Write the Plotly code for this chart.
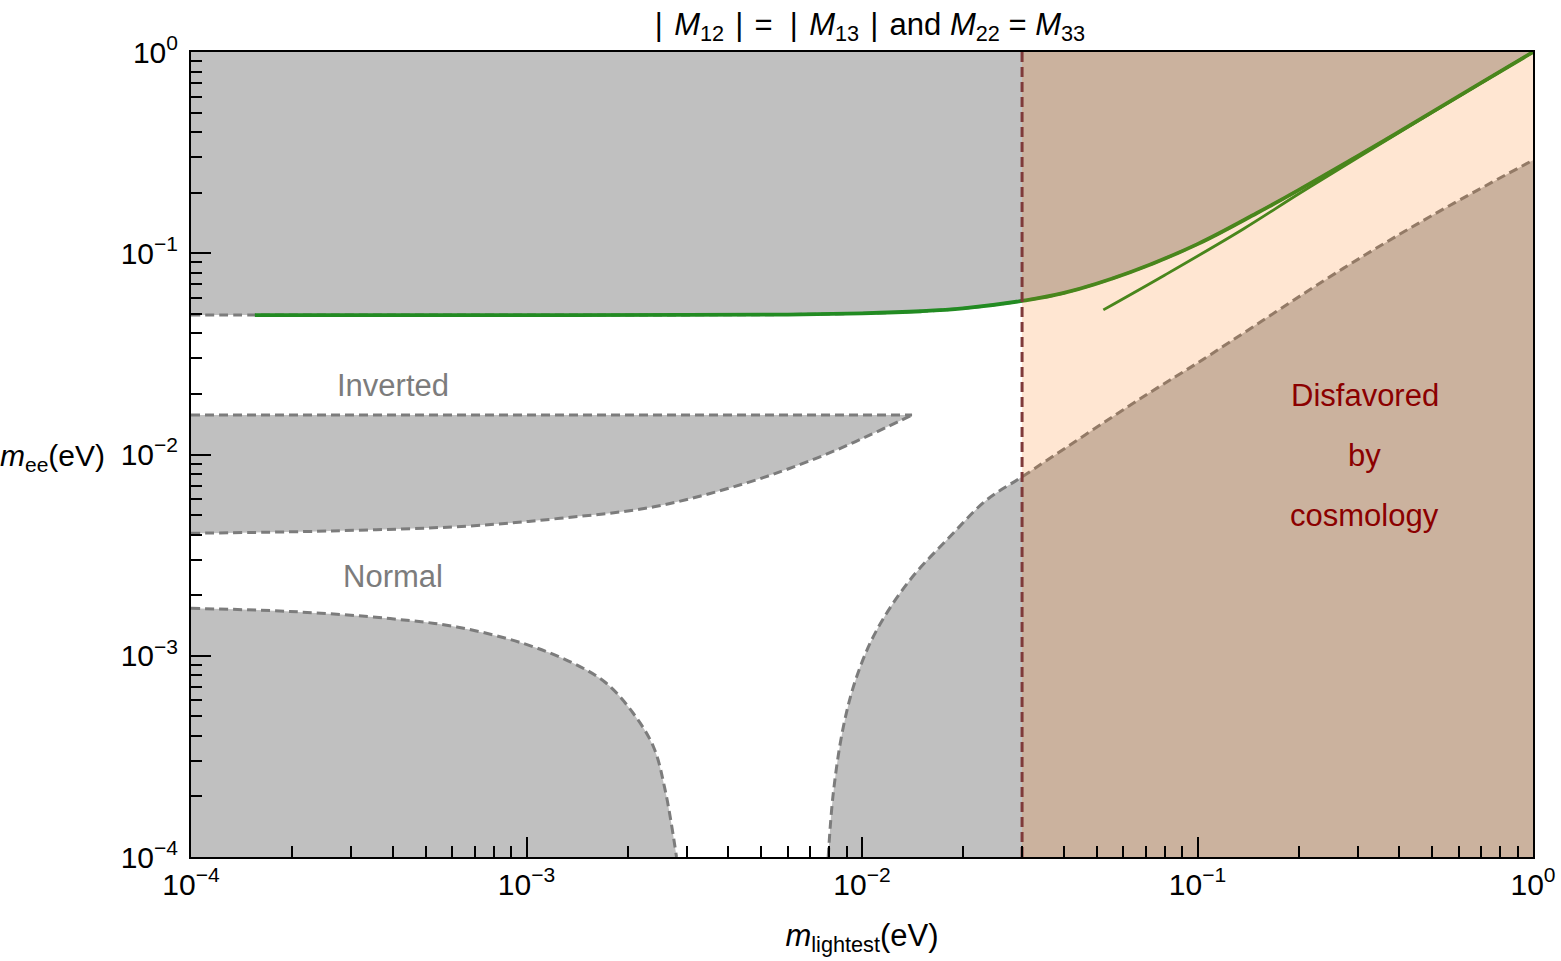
import plotly.graph_objects as go

# ---------------- data ----------------
# Inverted ordering, upper bound of m_ee
x_io_upper = [1e-4, 1.55e-4, 3e-4, 1e-3, 3e-3, 0.006, 0.01, 0.015, 0.02, 0.03,
              0.04, 0.063, 0.1, 0.15, 0.2, 0.3, 0.5, 0.7, 1.0]
y_io_upper = [0.0493, 0.0493, 0.0493, 0.0493, 0.0494, 0.0496, 0.0503, 0.0515, 0.0532, 0.0580,
              0.0635, 0.0805, 0.111, 0.158, 0.206, 0.304, 0.502, 0.702, 1.0]

# Inverted ordering, lower bound (top of grey wedge)
x_io_lower = [1e-4, 0.0141]
y_io_lower = [0.0157, 0.0157]

# Normal ordering, upper bound (bottom of grey wedge)
x_no_upper = [1e-4, 2.6e-4, 6.7e-4, 1.26e-3, 2.4e-3, 4.5e-3, 7.3e-3, 0.0103, 0.0141]
y_no_upper = [0.00406, 0.00417, 0.00441, 0.00482, 0.0055, 0.0072, 0.00957, 0.01226, 0.0157]

# Normal ordering, lower bound (left branch)
x_no_lower_left = [1e-4, 1.97e-4, 3.92e-4, 6.2e-4, 9.8e-4, 1.38e-3, 1.73e-3, 2.08e-3,
                   2.39e-3, 2.59e-3, 2.8e-3]
y_no_lower_left = [0.00172, 0.00166, 0.00153, 0.00139, 0.00115, 0.000917, 0.00073, 0.000518,
                   0.000353, 0.000215, 1e-4]

# Normal ordering, lower bound (right branch)
x_no_lower_right = [7.93e-3, 8.21e-3, 8.8e-3, 9.64e-3, 0.01106, 0.0139, 0.0183, 0.0235, 0.03,
                    0.0689, 0.1, 0.272, 0.5, 1.0]
y_no_lower_right = [1e-4, 2.07e-4, 4.44e-4, 7.87e-4, 1.34e-3, 2.38e-3, 3.91e-3, 5.94e-3, 7.75e-3,
                    0.01936, 0.0285, 0.0841, 0.154, 0.29]

# Green curves (texture-zero condition)
x_green_upper = x_io_upper[1:]
y_green_upper = y_io_upper[1:]
x_green_lower = [0.0524, 0.08, 0.137, 0.2, 0.3, 0.5, 1.0]
y_green_lower = [0.0523, 0.078, 0.132, 0.197, 0.298, 0.5, 1.0]

# Cosmology bound and plot limits
cosmo_limit = 0.03
x_min, x_max = 1e-4, 1.0
y_min, y_max = 1e-4, 1.0

# Axis ticks
major_ticks = [1e-4, 1e-3, 1e-2, 1e-1, 1.0]
major_labels = ["10<sup>\u22124</sup>", "10<sup>\u22123</sup>", "10<sup>\u22122</sup>",
                "10<sup>\u22121</sup>", "10<sup>0</sup>"]
minor_ticks = [m * d for d in major_ticks[:-1] for m in range(2, 10)]

# ---------------- colours / styles ----------------
GREY_FILL = "#C0C0C0"
DASH_GREY = "#7C7C7C"
GREEN = "rgb(34,139,34)"
OVERLAY = "rgba(255,112,0,0.175)"
DARKRED_LINE = "#7F3A3A"
TEXT_RED = "#8B0000"
FONT = "Liberation Sans, Arial, Helvetica, sans-serif"

fig = go.Figure()


def grey_between(base_x, base_y, edge_x, edge_y):
    """Grey area between a straight base line and a (smoothed) boundary curve."""
    fig.add_trace(go.Scatter(x=base_x, y=base_y, mode="lines", line=dict(width=0),
                             hoverinfo="skip"))
    fig.add_trace(go.Scatter(x=edge_x, y=edge_y, mode="lines", fill="tonexty",
                             fillcolor=GREY_FILL, line=dict(width=0, shape="spline"),
                             hoverinfo="skip"))


# excluded (grey) regions
grey_between([x_min, x_max], [y_max, y_max], x_io_upper, y_io_upper)           # above IO
grey_between(x_io_lower, y_io_lower, x_no_upper, y_no_upper)                   # wedge
grey_between([x_min, x_no_lower_left[-1]], [y_min, y_min],
             x_no_lower_left, y_no_lower_left)                                 # bottom left
grey_between([x_no_lower_right[0], x_max], [y_min, y_min],
             x_no_lower_right, y_no_lower_right)                               # bottom right

dash_style = dict(color=DASH_GREY, width=3, dash="9px,5px", shape="spline")
for xs, ys in [(x_io_upper, y_io_upper), (x_io_lower, y_io_lower), (x_no_upper, y_no_upper),
               (x_no_lower_left, y_no_lower_left), (x_no_lower_right, y_no_lower_right)]:
    fig.add_trace(go.Scatter(x=xs, y=ys, mode="lines", line=dash_style, hoverinfo="skip"))

# green curves
fig.add_trace(go.Scatter(x=x_green_upper, y=y_green_upper, mode="lines",
                         line=dict(color=GREEN, width=3.8, shape="spline")))
fig.add_trace(go.Scatter(x=x_green_lower, y=y_green_lower, mode="lines",
                         line=dict(color=GREEN, width=2.8, shape="spline")))

# disfavoured by cosmology overlay
fig.add_trace(go.Scatter(x=[cosmo_limit, x_max, x_max, cosmo_limit, cosmo_limit],
                         y=[y_min, y_min, y_max, y_max, y_min], mode="lines", fill="toself",
                         fillcolor=OVERLAY, line=dict(width=0), hoverinfo="skip"))
fig.add_trace(go.Scatter(x=[cosmo_limit, cosmo_limit], y=[y_min, y_max], mode="lines",
                         line=dict(color=DARKRED_LINE, width=3, dash="10px,5px")))

axis_common = dict(type="log", range=[-4, 0], automargin=False,
                   showline=True, linecolor="black", linewidth=2,
                   mirror=True, ticks="inside", ticklen=20, tickwidth=1.7, tickcolor="black",
                   tickmode="array", tickvals=major_ticks, ticktext=major_labels,
                   minor=dict(tickmode="array", tickvals=minor_ticks, ticks="inside", ticklen=11,
                              tickwidth=1.7, tickcolor="black", showgrid=False),
                   showgrid=False, zeroline=False,
                   tickfont=dict(size=30, family=FONT, color="black"))

fig.update_xaxes(**axis_common,
                 title=dict(text="<i>m</i><sub>lightest</sub>(eV)", standoff=24,
                            font=dict(size=31, family=FONT, color="black")))
fig.update_yaxes(**axis_common, ticklabelstandoff=5)

annotations = [
    dict(x=-3.398, y=-1.655, text="Inverted", font=dict(color=DASH_GREY, size=31)),
    dict(x=-3.398, y=-2.604, text="Normal", font=dict(color=DASH_GREY, size=31)),
    dict(x=-0.501, y=-1.705, text="Disfavored", font=dict(color=TEXT_RED, size=31)),
    dict(x=-0.501, y=-2.007, text="by", font=dict(color=TEXT_RED, size=31)),
    dict(x=-0.501, y=-2.305, text="cosmology", font=dict(color=TEXT_RED, size=31)),
]
for a in annotations:
    a.update(xref="x", yref="y", showarrow=False, xanchor="center", yanchor="middle")
    a["font"]["family"] = FONT
    fig.add_annotation(**a)

fig.add_annotation(xref="paper", yref="paper", x=0, y=0.496, xanchor="right", yanchor="middle",
                   xshift=-84, showarrow=False, text="<i>m</i><sub>ee</sub>(eV)",
                   font=dict(size=30, family=FONT, color="black"))

fig.update_layout(
    width=1561, height=961,
    margin=dict(l=191, r=28, t=52, b=104, autoexpand=False),
    paper_bgcolor="white", plot_bgcolor="white", showlegend=False,
    font=dict(family=FONT, size=31, color="black"),
    title=dict(text="|&nbsp;&#8202;<i>M</i><sub>12</sub>&nbsp;&#8202;|&nbsp;&#8202;=&nbsp;&nbsp;"
                    "|&nbsp;&#8202;<i>M</i><sub>13</sub>&nbsp;&#8202;|&nbsp;&#8202;and "
                    "<i>M</i><sub>22</sub> = <i>M</i><sub>33</sub>",
               x=(655 + 1085) / 2 / 1561, xanchor="center", y=1 - 24 / 961, yanchor="middle",
               font=dict(size=31, family=FONT, color="black")),
)

fig.write_html("out.html")
